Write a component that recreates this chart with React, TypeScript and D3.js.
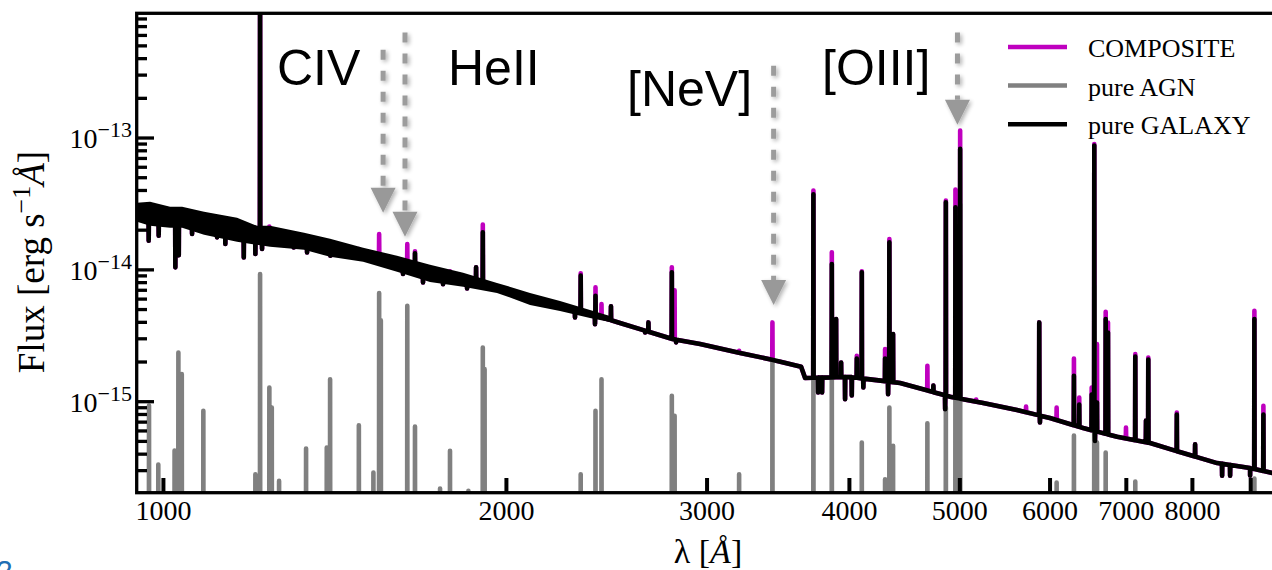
import React from 'react';
import * as d3 from 'd3';

// ---------- DATA (wavelength in Angstrom, flux in erg s^-1 A^-1) ----------
const continuumWl = [948.0, 1013.6, 1038.5, 1085.6, 1160.4, 1208.3, 1240.5, 1328.8, 1400.5, 1497.2, 1603.3, 1713.9, 1832.5, 1962.3, 2097.8, 2228.8, 2368.0, 2515.9, 2795.4, 2958.2, 3207.3, 3428.6, 3628.0, 3657.4, 4005.3, 4431.5, 4903.2, 5241.2, 5611.8, 5998.7, 6414.8, 6871.1, 7344.8, 7851.1, 8409.6, 8989.2, 9416.7];
const continuumFlux = [2.757e-14, 2.526e-14, 2.570e-14, 2.275e-14, 2.012e-14, 1.844e-14, 1.812e-14, 1.660e-14, 1.469e-14, 1.300e-14, 1.110e-14, 9.489e-15, 8.396e-15, 7.303e-15, 6.022e-15, 5.330e-15, 4.634e-15, 3.958e-15, 2.993e-15, 2.742e-15, 2.343e-15, 2.073e-15, 1.844e-15, 1.514e-15, 1.540e-15, 1.387e-15, 1.091e-15, 9.775e-16, 8.651e-16, 7.518e-16, 6.314e-16, 5.423e-16, 4.857e-16, 4.078e-16, 3.423e-16, 3.137e-16, 2.875e-16];

// noisy UV part of the galaxy spectrum (envelope)
const bandWl = [948.0, 973.3, 1013.6, 1038.5, 1085.6, 1160.4, 1208.3, 1240.5, 1328.8, 1400.5, 1497.2, 1603.3, 1713.9, 1832.5, 1962.3, 2097.8, 2228.8, 2368.0, 2465.5];
const bandUpper = [3.227e-14, 3.284e-14, 3.009e-14, 3.009e-14, 2.757e-14, 2.482e-14, 2.158e-14, 2.158e-14, 1.910e-14, 1.720e-14, 1.469e-14, 1.278e-14, 1.091e-14, 9.489e-15, 7.966e-15, 6.690e-15, 5.816e-15, 4.969e-15, 4.473e-15];
const bandLower = [2.315e-14, 2.158e-14, 2.084e-14, 2.084e-14, 1.844e-14, 1.632e-14, 1.548e-14, 1.495e-14, 1.418e-14, 1.256e-14, 1.150e-14, 9.656e-15, 8.107e-15, 7.430e-15, 6.690e-15, 5.424e-15, 4.883e-15, 4.321e-15, 4.028e-15];

// absorption features of the galaxy
const dipWl = [970.7, 990.5, 1024.4, 1031.5, 1059.6, 1114.5, 1133.3, 1176.3, 1204.2, 1220.6, 1301.3, 1336.8, 1401.3, 1622.8, 1689.8, 1759.6, 1847.2, 2297.3, 2392.1, 2647.1, 2818.1, 3754.6, 3785.1, 3965.1, 4019.1, 4114.3, 4325.3, 4853.9, 5878.7, 6570.3, 8495.1, 8633.5, 8989.2];
const dipFlux = [1.666e-14, 1.818e-14, 1.045e-14, 1.289e-14, 1.869e-14, 1.765e-14, 1.570e-14, 1.244e-14, 1.318e-14, 1.438e-14, 1.482e-14, 1.358e-14, 1.282e-14, 9.292e-15, 8.036e-15, 7.801e-15, 7.240e-15, 4.359e-15, 3.876e-15, 3.353e-15, 2.815e-15, 1.174e-15, 1.174e-15, 1.045e-15, 1.114e-15, 1.282e-15, 1.140e-15, 8.770e-16, 6.950e-16, 5.047e-16, 2.751e-16, 2.751e-16, 2.751e-16];

// emission lines: peak flux of each spectrum (null = no line)
const lineWl = [971.3, 989.7, 1022.8, 1030.7, 1037.8, 1084.0, 1204.2, 1215.7, 1238.7, 1244.8, 1263.3, 1334.1, 1391.1, 1400.5, 1484.3, 1528.6, 1546.4, 1551.7, 1636.9, 1662.6, 1749.0, 1784.5, 1852.1, 1881.1, 1906.8, 1913.7, 2323.9, 2394.5, 2423.7, 2470.5, 2664.8, 2793.8, 2809.6, 3200.8, 3423.7, 3719.3, 3860.2, 3893.9, 3933.5, 4060.2, 4101.4, 4298.9, 4336.4, 4368.9, 4682.6, 4739.7, 4860.7, 4955.9, 5003.2, 5167.7, 5716.0, 5870.4, 6080.4, 6296.7, 6364.5, 6526.7, 6561.1, 6597.0, 6714.0, 6745.3, 6995.1, 7127.8, 7283.7, 7317.6, 7751.9, 8043.8, 9067.6, 9234.1];
const galaxyPeak: (number | null)[] = [null, null, null, null, null, null, null, 2e-12, null, null, null, null, null, null, null, null, null, null, null, 1.334e-14, null, null, null, 1.045e-14, 1.926e-14, null, 9.036e-15, 6.368e-15, null, 5.284e-15, 3.993e-15, 9.572e-15, null, null, null, 3.744e-14, 1.107e-14, 4.231e-15, 1.984e-15, 2.128e-15, 9.572e-15, 2.128e-15, 1.617e-14, 3.255e-15, null, 1.327e-15, 3.255e-14, 2.982e-14, 8.266e-14, null, null, 3.993e-15, null, 1.573e-15, 9.522e-16, 1.134e-15, 8.771e-14, 9.861e-16, 4.231e-15, 3.353e-15, null, 2.204e-15, 7.197e-16, 2.091e-15, 7.995e-16, 4.757e-16, 4.231e-15, 7.995e-16];
const agnPeak: (number | null)[] = [9.358e-16, 3.334e-16, 4.262e-16, 2.363e-15, 1.618e-15, 8.527e-16, 2.814e-16, 9.292e-15, 1.282e-15, 9.036e-16, 2.508e-16, 4.413e-16, 4.491e-16, 1.482e-15, 6.630e-16, 2.900e-16, 6.667e-15, 4.136e-15, 5.349e-15, 6.481e-16, 2.193e-16, 4.239e-16, 2.106e-16, null, 2.579e-15, 1.765e-15, 2.814e-16, 8.527e-16, 1.482e-15, null, null, 1.109e-15, 7.815e-16, 2.814e-16, 2.019e-15, 2.363e-15, 2.405e-15, null, null, null, 4.900e-16, 2.579e-16, 9.036e-16, 4.626e-16, 6.866e-16, null, 9.036e-16, 1.082e-14, 3.144e-14, null, null, null, 2.434e-16, 5.537e-16, null, null, 7.495e-15, 4.900e-16, 4.115e-16, null, null, 2.478e-16, null, null, null, null, 2.611e-16, null];
const compositePeak: (number | null)[] = [null, null, null, null, null, null, null, null, 2.128e-14, null, null, null, null, null, 1.438e-14, null, 1.869e-14, null, 1.570e-14, 1.382e-14, null, 9.741e-15, null, null, 2.204e-14, null, 9.406e-15, 7.367e-15, 5.500e-15, null, null, 1.045e-14, 6.990e-15, 2.434e-15, 3.993e-15, 3.993e-14, 1.358e-14, null, null, 2.231e-15, 9.741e-15, 2.503e-15, 1.714e-14, null, 1.873e-15, null, 3.353e-14, 4.064e-14, 1.140e-13, 1.039e-15, 9.196e-16, null, 9.036e-16, 2.128e-15, 1.076e-15, 1.282e-15, 9.020e-14, 2.732e-15, 4.815e-15, 3.993e-15, 6.369e-16, 2.294e-15, null, 2.166e-15, 8.279e-16, null, 4.900e-15, 9.309e-16];
const agnFloor = 1e-17;

// annotated lines (arrows)
const arrowLabels = ['CIV', 'HeII', '[NeV]', '[OIII]'];
const arrowWl = [1558.9, 1629.4, 3432.1, 4976.1];
const arrowFrom = [4.682e-13, 6.302e-13, 3.539e-13, 6.302e-13];
const arrowTo = [2.709e-14, 1.781e-14, 5.424e-15, 1.262e-13];

// axes
const xDomain = [948, 9420];
const yDomain = [2.03e-16, 8.8e-13];
const xTickValues = [1000, 2000, 3000, 4000, 5000, 6000, 7000, 8000, 9000];
const xTickLabels = ['1000', '2000', '3000', '4000', '5000', '6000', '7000', '8000', ''];
const yMajorValues = [1e-15, 1e-14, 1e-13];
const yMajorExponents = ['\u221215', '\u221214', '\u221213'];

const legendLabels = ['COMPOSITE', 'pure AGN', 'pure GALAXY'];
const legendColors = ['#bf00bf', '#808080', '#000000'];

// ---------- CHART ----------
const SERIF = '"Liberation Serif", "Times New Roman", serif';
const SANS = '"Liberation Sans", Arial, sans-serif';

type Pt = [number, number];

export default function App() {
  const left = 137, top = 13.5, bottom = 493;
  const xScale = d3.scaleLog().domain(xDomain).range([left, left + 1139.4 * Math.log10(xDomain[1] / xDomain[0])]);
  const yScale = d3.scaleLog().domain(yDomain).range([bottom, top]);
  const X = (l: number) => xScale(l);
  const Y = (f: number) => yScale(f);

  const contPx: Pt[] = continuumWl.map((l, i) => [X(l), Y(continuumFlux[i])]);
  const baseY = (px: number) => {
    for (let i = 0; i < contPx.length - 1; i++) {
      const [x0, y0] = contPx[i];
      const [x1, y1] = contPx[i + 1];
      if (px >= x0 && px <= x1) return y0 + ((y1 - y0) * (px - x0)) / (x1 - x0);
    }
    return px < contPx[0][0] ? contPx[0][1] : contPx[contPx.length - 1][1];
  };
  const HW = 0.0004;
  const feature = (l: number, f: number, base?: number): Pt[] => {
    const a = X(l * (1 - HW));
    const b = X(l * (1 + HW));
    return [
      [a, base ?? baseY(a)],
      [X(l), Y(f)],
      [b, base ?? baseY(b)],
    ];
  };
  const line = d3.line<Pt>();

  const spectrumPath = (peaks: (number | null)[]) => {
    const pts: Pt[] = [...contPx];
    dipWl.forEach((l, i) => pts.push(...feature(l, dipFlux[i])));
    lineWl.forEach((l, i) => {
      const p = peaks[i];
      if (p != null) pts.push(...feature(l, p));
    });
    pts.sort((p, q) => p[0] - q[0]);
    return line(pts) || '';
  };

  const galaxyD = spectrumPath(galaxyPeak);
  const compositeD = spectrumPath(lineWl.map((_, i) => compositePeak[i] ?? galaxyPeak[i]));
  const floorY = Y(agnFloor);
  const agnPts: Pt[] = [[X(xDomain[0]), floorY], [X(xDomain[1]), floorY]];
  lineWl.forEach((l, i) => {
    const p = agnPeak[i];
    if (p != null) agnPts.push(...feature(l, p, floorY));
  });
  agnPts.sort((p, q) => p[0] - q[0]);
  const agnD = line(agnPts) || '';

  const bandD =
    d3
      .area<number>()
      .x((_, i) => X(bandWl[i]))
      .y0((_, i) => Y(bandLower[i]))
      .y1((_, i) => Y(bandUpper[i]))(bandWl.map((_, i) => i)) || '';

  const yMinor = yScale.ticks().filter((t) => !yMajorValues.some((m) => Math.abs(m - t) / m < 1e-6));

  const annPos = [
    { x: 277, y: 85 },
    { x: 448, y: 85 },
    { x: 627, y: 106 },
    { x: 822, y: 85 },
  ];

  const lw = 4.6;
  return (
    <svg
      width={1272}
      height={570}
      viewBox="0 0 1272 570"
      style={{ position: 'absolute', left: 0, top: 0, background: '#ffffff' }}
    >
      <defs>
        <clipPath id="plot">
          <rect x={left} y={top} width={1300 - left} height={bottom - top} />
        </clipPath>
        <filter id="soft" x="-60%" y="-20%" width="220%" height="140%">
          <feGaussianBlur in="SourceAlpha" stdDeviation="2" />
          <feOffset dx="1.5" dy="1.5" result="o" />
          <feComponentTransfer>
            <feFuncA type="linear" slope="0.3" />
          </feComponentTransfer>
          <feMerge>
            <feMergeNode />
            <feMergeNode in="SourceGraphic" />
          </feMerge>
        </filter>
      </defs>
      <rect x={0} y={0} width={1272} height={570} fill="#ffffff" />

      <g clipPath="url(#plot)">
        <path d={compositeD} fill="none" stroke={legendColors[0]} strokeWidth={lw} strokeLinejoin="round" />
        <path d={agnD} fill="none" stroke={legendColors[1]} strokeWidth={lw} strokeLinejoin="round" />
        <path d={bandD} fill="#000" stroke="none" />
        <path d={galaxyD} fill="none" stroke="#000" strokeWidth={lw} strokeLinejoin="round" />
      </g>

      {/* arrows */}
      {arrowWl.map((l, i) => {
        const x = X(l);
        const y0 = Y(arrowFrom[i]);
        const tip = Y(arrowTo[i]);
        return (
          <g key={'ar' + i} filter="url(#soft)">
            <line x1={x} x2={x} y1={y0} y2={tip - 25} stroke="#9c9c9c" strokeWidth={5} strokeDasharray="10 11" />
            <polygon points={`${x - 12.5},${tip - 25} ${x + 12.5},${tip - 25} ${x},${tip}`} fill="#999999" />
          </g>
        );
      })}
      {arrowLabels.map((t, i) => (
        <text key={'al' + i} x={annPos[i].x} y={annPos[i].y} fontFamily={SANS} fontSize={50} fill="#000">
          {t}
        </text>
      ))}

      {/* frame */}
      <rect x={136.7} y={13.3} width={1300} height={479.4} fill="none" stroke="#000" strokeWidth={3.3} />

      {/* x ticks */}
      {xTickValues.map((v, i) => (
        <g key={'xt' + i}>
          <line x1={X(v)} x2={X(v)} y1={bottom} y2={bottom - 15} stroke="#000" strokeWidth={4} />
          <text x={X(v)} y={520} textAnchor="middle" fontFamily={SERIF} fontSize={28} fill="#000">
            {xTickLabels[i]}
          </text>
        </g>
      ))}
      {/* y ticks */}
      {yMinor.map((v, i) => (
        <line key={'ym' + i} x1={left} x2={left + 10} y1={Y(v)} y2={Y(v)} stroke="#000" strokeWidth={3.3} />
      ))}
      {yMajorValues.map((v, i) => (
        <g key={'yM' + i}>
          <line x1={left} x2={left + 17} y1={Y(v)} y2={Y(v)} stroke="#000" strokeWidth={3.3} />
          <text x={132} y={Y(v) + 10} textAnchor="end" fontFamily={SERIF} fontSize={28} fill="#000">
            10
            <tspan dy={-11} fontSize={22}>
              {yMajorExponents[i]}
            </tspan>
          </text>
        </g>
      ))}

      {/* axis labels */}
      <text x={708} y={563} textAnchor="middle" fontFamily={SERIF} fontSize={34} fill="#000">
        λ [<tspan fontStyle="italic">Å</tspan>]
      </text>
      <text
        transform="translate(44,262) rotate(-90)"
        textAnchor="middle"
        fontFamily={SERIF}
        fontSize={37}
        fill="#000"
      >
        Flux [erg s
        <tspan dy={-14} fontSize={26}>
          {'\u22121'}
        </tspan>
        <tspan dy={14} fontStyle="italic">
          Å
        </tspan>
        ]
      </text>

      {/* legend */}
      {legendLabels.map((t, i) => {
        const y = 47 + i * 38.6;
        return (
          <g key={'lg' + i}>
            <line x1={1008} x2={1067} y1={y} y2={y} stroke={legendColors[i]} strokeWidth={4.5} />
            <text x={1088} y={y + 10} fontFamily={SERIF} fontSize={26} fill="#000">
              {t}
            </text>
          </g>
        );
      })}

      {/* cut-off glyph at the bottom-left corner */}
      <text x={-4} y={581} fontFamily={SANS} fontSize={30} fill="#1f6fb4">
        2
      </text>
    </svg>
  );
}
